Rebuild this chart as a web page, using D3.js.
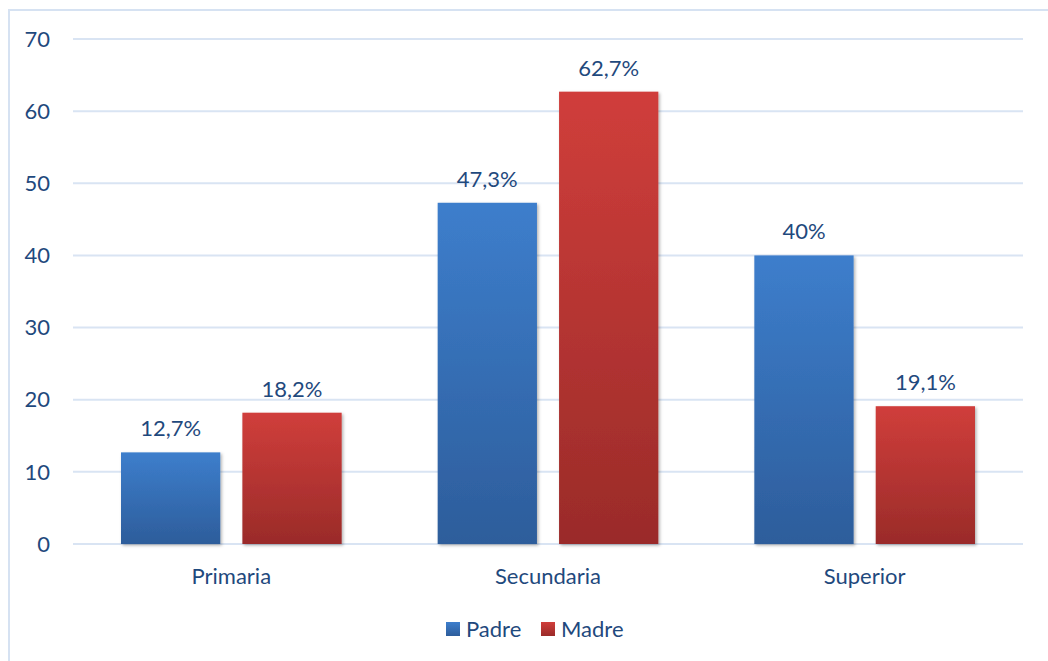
<!DOCTYPE html>
<html>
<head>
<meta charset="utf-8">
<script src="https://cdn.jsdelivr.net/npm/d3@7"></script>
<style>
  body { margin: 0; background: #fff; }
  svg text { font-family: Lato, "Open Sans", sans-serif; fill: #1f497d; }
</style>
</head>
<body>
<svg id="chart" width="1048" height="661"></svg>
<script>
var categories = ["Primaria", "Secundaria", "Superior"];
var seriesNames = ["Padre", "Madre"];
var padreValues = [12.7, 47.3, 40];
var madreValues = [18.2, 62.7, 19.1];
var valueLabels = [["12,7%", "18,2%"], ["47,3%", "62,7%"], ["40%", "19,1%"]];
var yTicks = [0, 10, 20, 30, 40, 50, 60, 70];

var svg = d3.select("#chart");

// gradients for the two series
var defs = svg.append("defs");
var grads = [
    {id: "gPadre", top: "#3d7ecc", bottom: "#2d5d9b"},
    {id: "gMadre", top: "#d03e3b", bottom: "#9a2b29"}
];
grads.forEach(function (g) {
    var lg = defs.append("linearGradient")
        .attr("id", g.id)
        .attr("x1", 0).attr("y1", 0).attr("x2", 0).attr("y2", 1);
    lg.append("stop").attr("offset", "0%").attr("stop-color", g.top);
    lg.append("stop").attr("offset", "100%").attr("stop-color", g.bottom);
});
var shadow = defs.append("filter").attr("id", "shadow")
    .attr("x", "-10%").attr("y", "-10%").attr("width", "130%").attr("height", "120%");
shadow.append("feDropShadow")
    .attr("dx", 1.5).attr("dy", 1.5).attr("stdDeviation", 1.5)
    .attr("flood-color", "#000").attr("flood-opacity", 0.3);

//outer border
svg.append("rect")
    .attr("x", 9).attr("y", 10)
    .attr("width", 1060).attr("height", 670)
    .attr("fill", "none")
    .attr("stroke", "#d6e2f2")
    .attr("stroke-width", 2);

var left = 73, right = 1023;
var y = d3.scaleLinear().domain([0, 70]).range([544, 39]);
var x0 = d3.scaleBand().domain(categories).range([left, right]);
var x1 = d3.scaleBand().domain(seriesNames)
    .range([48, x0.bandwidth() - 48])
    .paddingInner(0.182);

// gridlines
svg.append("g").selectAll("line")
    .data(yTicks)
    .enter()
    .append("line")
    .attr("x1", left).attr("x2", right)
    .attr("y1", function (d) { return y(d); })
    .attr("y2", function (d) { return y(d); })
    .attr("stroke", "#d9e4f3")
    .attr("stroke-width", 2);

// y tick labels
svg.append("g").selectAll("text")
    .data(yTicks)
    .enter()
    .append("text")
    .attr("x", 50)
    .attr("y", function (d) { return y(d); })
    .attr("dy", "0.35em")
    .attr("text-anchor", "end")
    .style("font-size", "22px")
    .text(function (d) { return d; });

var rows = categories.map(function (c, i) {
    return {
        category: c,
        items: [
            {series: "Padre", value: padreValues[i], label: valueLabels[i][0], fill: "url(#gPadre)"},
            {series: "Madre", value: madreValues[i], label: valueLabels[i][1], fill: "url(#gMadre)"}
        ]
    };
});

var groups = svg.append("g").selectAll("g")
    .data(rows)
    .enter()
    .append("g")
    .attr("transform", function (d) { return "translate(" + x0(d.category) + ",0)"; });

groups.selectAll("rect")
    .data(function (d) { return d.items; })
    .enter()
    .append("rect")
    .attr("x", function (d) { return x1(d.series); })
    .attr("y", function (d) { return y(d.value); })
    .attr("width", x1.bandwidth())
    .attr("height", function (d) { return y(0) - y(d.value); })
    .attr("fill", function (d) { return d.fill; })
    .attr("filter", "url(#shadow)");

groups.selectAll("text.val")
    .data(function (d) { return d.items; })
    .enter()
    .append("text")
    .attr("class", "val")
    .attr("x", function (d) { return x1(d.series) + x1.bandwidth() / 2; })
    .attr("y", function (d) { return y(d.value) - 16; })
    .attr("text-anchor", "middle")
    .style("font-size", "22px")
    .text(function (d) { return d.label; });

// category labels
svg.append("g").selectAll("text")
    .data(categories)
    .enter()
    .append("text")
    .attr("x", function (d) { return x0(d) + x0.bandwidth() / 2; })
    .attr("y", 584)
    .attr("text-anchor", "middle")
    .style("font-size", "22px")
    .text(function (d) { return d; });

// legend
var legend = svg.append("g");
var legendX = [446, 541];
seriesNames.forEach(function (s, i) {
    legend.append("rect")
        .attr("x", legendX[i]).attr("y", 622)
        .attr("width", 14).attr("height", 14)
        .attr("fill", "url(#" + grads[i].id + ")");
    legend.append("text")
        .attr("x", legendX[i] + 20).attr("y", 637)
        .style("font-size", "22px")
        .text(s);
});
</script>
</body>
</html>
